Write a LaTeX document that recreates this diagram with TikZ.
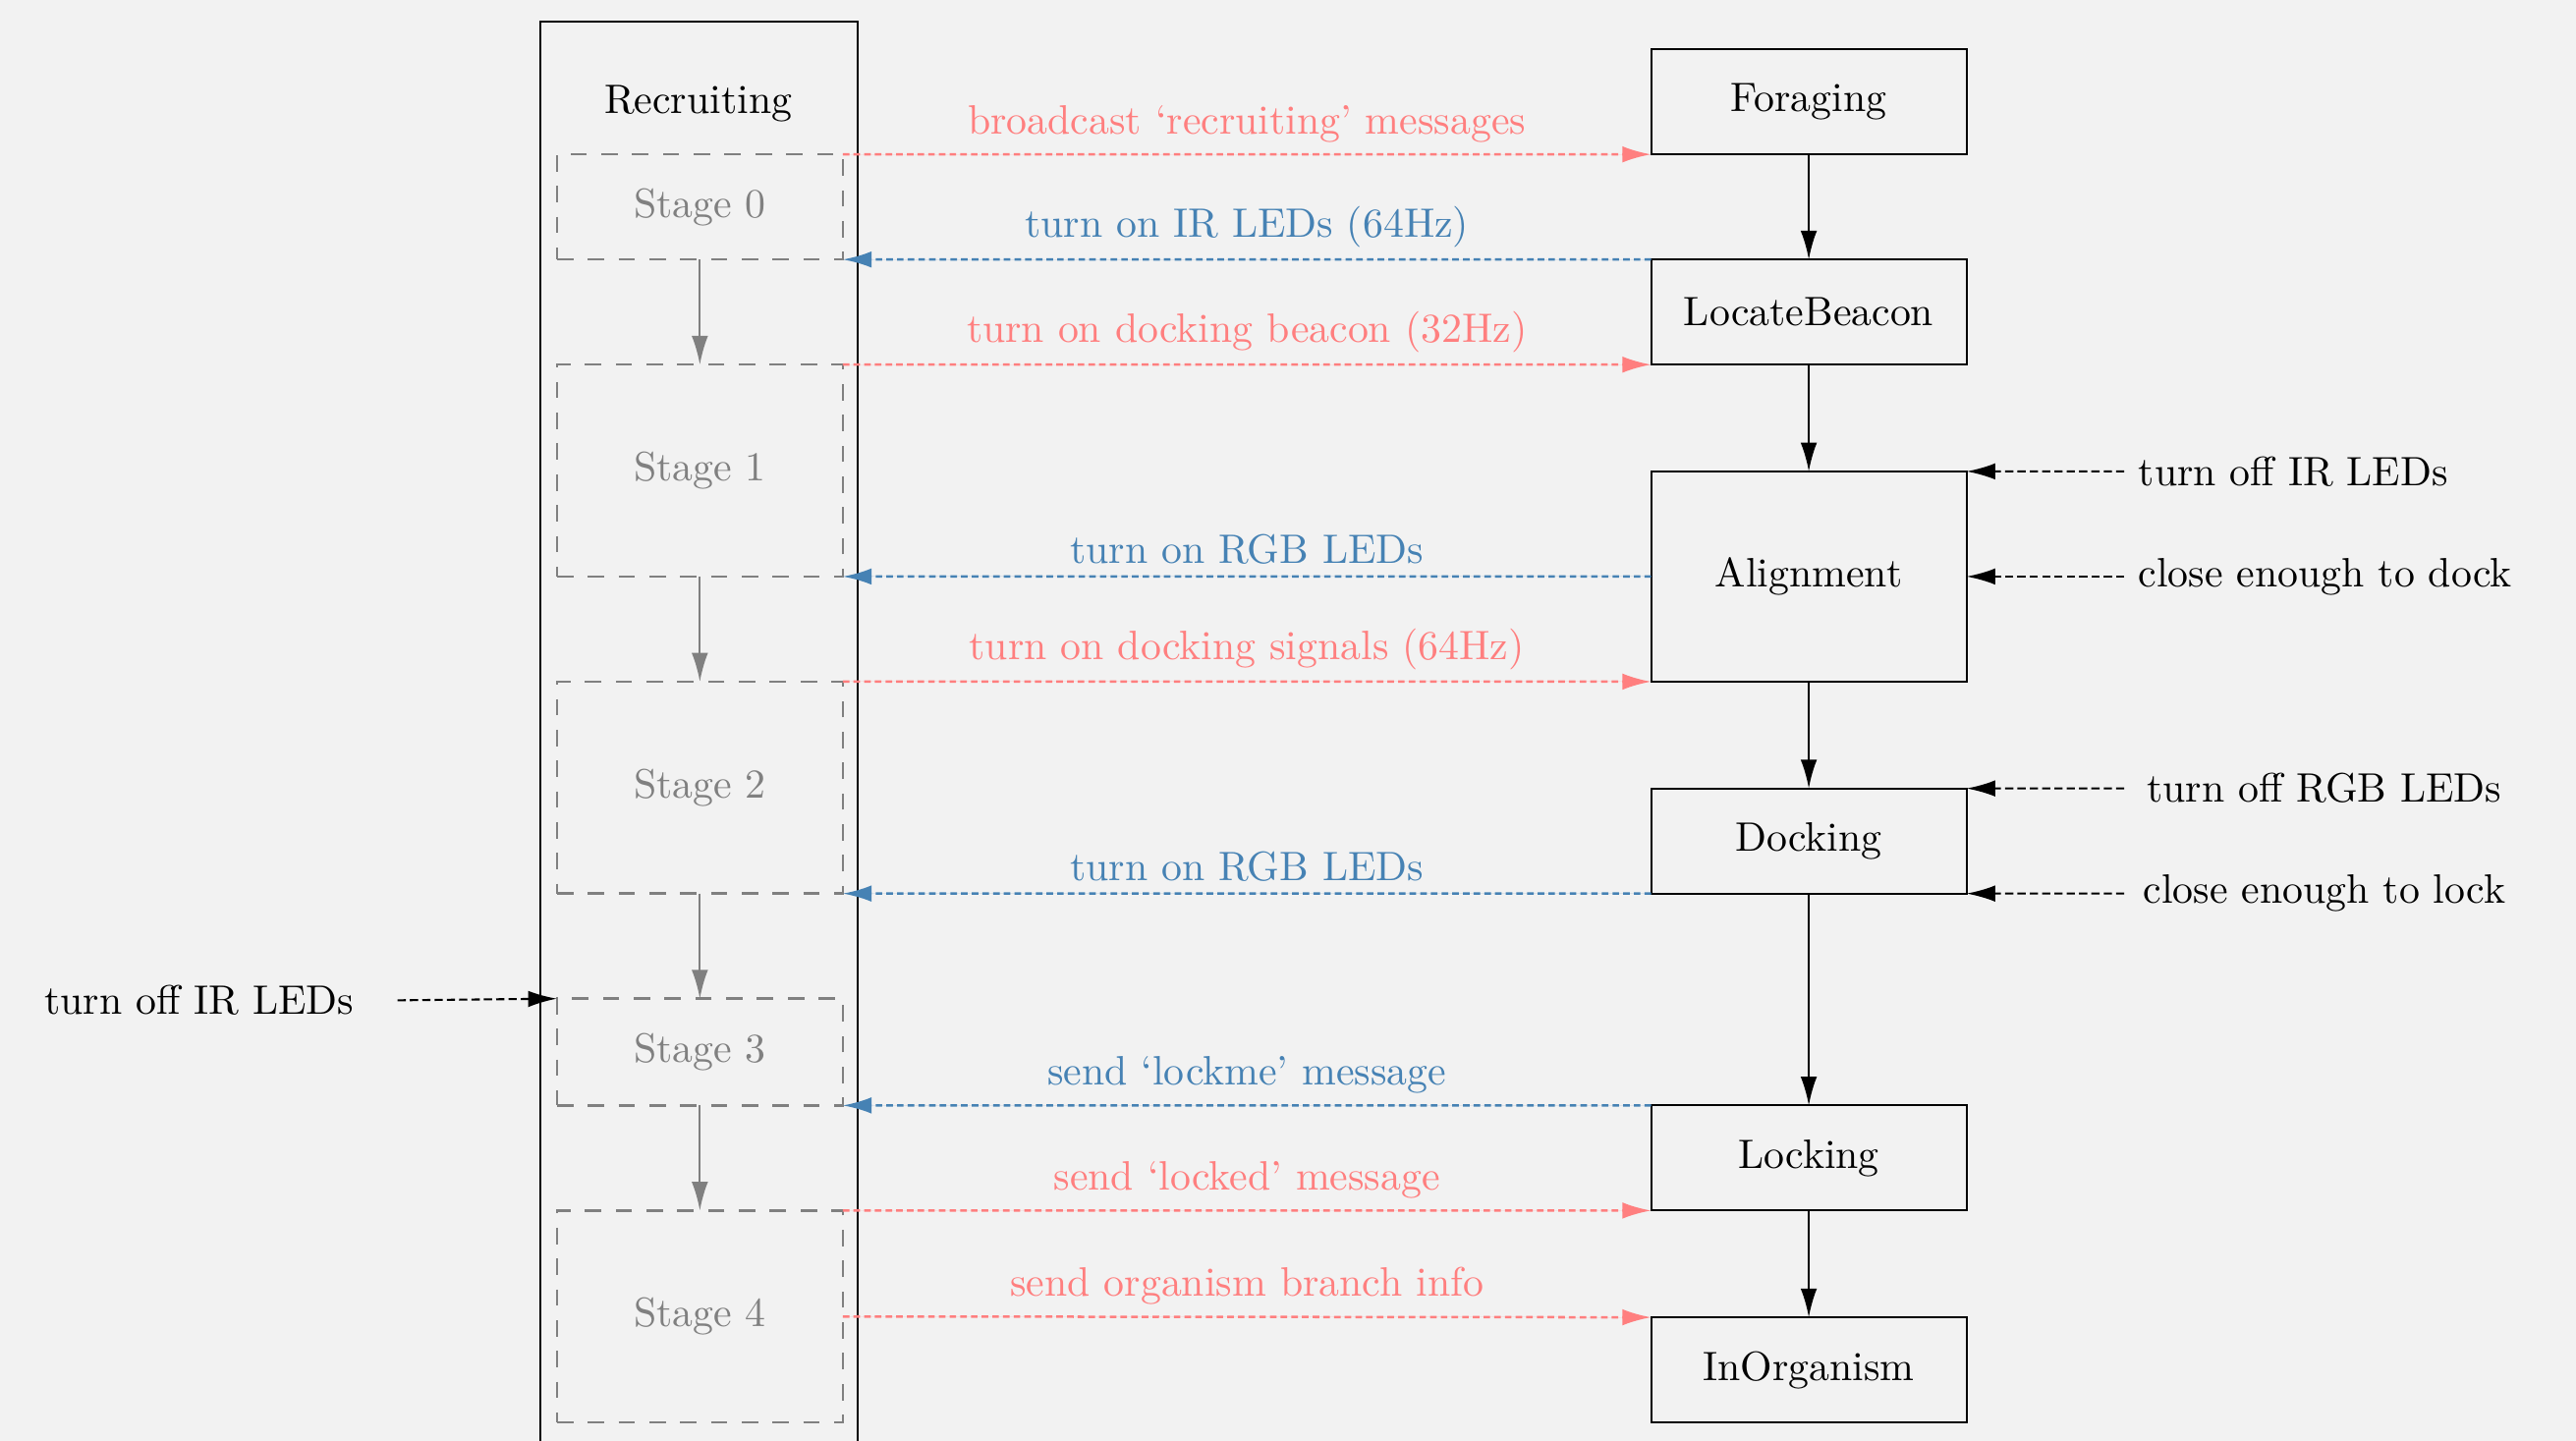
\documentclass[tikz,border=0pt]{standalone}
\usetikzlibrary{arrows.meta}
\definecolor{bgc}{HTML}{F2F2F2}
\definecolor{msgred}{HTML}{FF7F7F}
\definecolor{msgblue}{HTML}{4682B4}
\definecolor{stgray}{HTML}{808080}
\begin{document}
\begin{tikzpicture}[x=0.4pt,y=-0.4pt,
  tip/.style={-{Latex[length=7pt,width=4pt]}},
  statebox/.style={draw=black,line width=0.5pt,minimum width=76.8pt,minimum height=25.6pt,inner sep=0pt,outer sep=0pt},
  stagebox/.style={draw=stgray,line width=0.6pt,dash pattern=on 4pt off 3.5pt,text=stgray,minimum width=69.6pt,inner sep=0pt,outer sep=0pt},
  flow/.style={tip,line width=0.5pt},
  stageflow/.style={tip,line width=0.5pt,draw=stgray,fill=stgray},
  sendmsg/.style={tip,line width=0.6pt,draw=msgred,fill=msgred,dash pattern=on 1.6pt off 1pt},
  recvmsg/.style={tip,line width=0.6pt,draw=msgblue,fill=msgblue,dash pattern=on 1.6pt off 1pt},
  msglabel/.style={above,inner sep=2.6pt},
  extin/.style={tip,line width=0.5pt,dash pattern=on 2pt off 1pt},
  rlab/.style={anchor=west,inner sep=3.3pt}]
\useasboundingbox[fill=bgc] (0,0) rectangle (1568,877);

% Recruiting column
\draw[line width=0.5pt] (329,900) -- (329,13) -- (522,13) -- (522,900);
\node (rec) at (425,63) {Recruiting};

% stages
\node[stagebox,minimum height=25.6pt] (s0) at (426,126) {Stage 0};
\node[stagebox,minimum height=51.6pt] (s1) at (426,286.5) {Stage 1};
\node[stagebox,minimum height=51.6pt] (s2) at (426,479.5) {Stage 2};
\node[stagebox,minimum height=26pt] (s3) at (426,640.5) {Stage 3};
\node[stagebox,minimum height=51.6pt] (s4) at (426,801.5) {Stage 4};

\draw[stageflow] (s0.south) -- (s1.north);
\draw[stageflow] (s1.south) -- (s2.north);
\draw[stageflow] (s2.south) -- (s3.north);
\draw[stageflow] (s3.south) -- (s4.north);

% states
\node[statebox] (for) at (1101,62) {Foraging};
\node[statebox] (loc) at (1101,190) {LocateBeacon};
\node[statebox,minimum height=51.2pt] (ali) at (1101,351) {Alignment};
\node[statebox] (dock) at (1101,512) {Docking};
\node[statebox] (lock) at (1101,705) {Locking};
\node[statebox] (inorg) at (1101,834) {InOrganism};

\draw[flow] (for) -- (loc);
\draw[flow] (loc) -- (ali);
\draw[flow] (ali) -- (dock);
\draw[flow] (dock) -- (lock);
\draw[flow] (lock) -- (inorg);

% messages
\draw[sendmsg] (s0.north east) -- node[msglabel,text=msgred] {broadcast `recruiting' messages} (for.south west);
\draw[recvmsg] (loc.north west) -- node[msglabel,text=msgblue] {turn on IR LEDs (64Hz)} (s0.south east);
\draw[sendmsg] (s1.north east) -- node[msglabel,text=msgred] {turn on docking beacon (32Hz)} (loc.south west);
\draw[recvmsg] (ali.west) -- node[msglabel,text=msgblue] {turn on RGB LEDs} (s1.south east);
\draw[sendmsg] (s2.north east) -- node[msglabel,text=msgred] {turn on docking signals (64Hz)} (ali.south west);
\draw[recvmsg] (dock.south west) -- node[msglabel,text=msgblue] {turn on RGB LEDs} (s2.south east);
\draw[recvmsg] (lock.north west) -- node[msglabel,text=msgblue] {send `lockme' message} (s3.south east);
\draw[sendmsg] (s4.north east) -- node[msglabel,text=msgred] {send `locked' message} (lock.south west);
\draw[sendmsg] (s4.east) -- node[msglabel,text=msgred] {send organism branch info} (inorg.north west);

% external inputs right
\node[rlab] (e1) at (1293,287) {turn off IR LEDs};
\node[rlab] (e2) at (1293,351) {close enough to dock};
\node[rlab,inner xsep=5.3pt] (e3) at (1293,480) {turn off RGB LEDs};
\node[rlab,inner xsep=4.5pt] (e4) at (1293,544) {close enough to lock};
\draw[extin] (e1.west) -- (ali.north east);
\draw[extin] (e2.west) -- (ali.east);
\draw[extin] (e3.west) -- (dock.north east);
\draw[extin] (e4.west) -- (dock.south east);

% external input left
\node[anchor=east,inner xsep=10.4pt] (e5) at (242,609) {turn off IR LEDs};
\draw[extin] (e5.east) -- (s3.north west);
\end{tikzpicture}
\end{document}
